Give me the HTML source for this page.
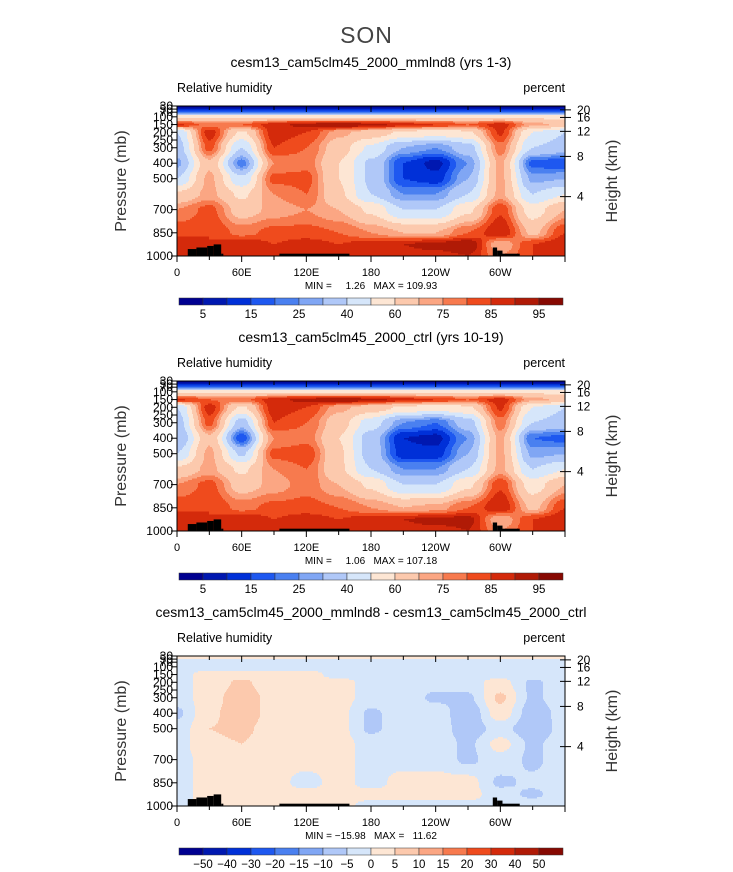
<!DOCTYPE html>
<html><head><meta charset="utf-8">
<style>
body{margin:0;background:#fff;}
#root{position:relative;width:733px;height:872px;background:#fff;font-family:"Liberation Sans",sans-serif;overflow:hidden;}
.t{position:absolute;white-space:nowrap;color:#000;}
text{white-space:pre;}
</style></head>
<body>
<div id="root">
<div class="t" style="left:0;width:733px;text-align:center;top:22px;font-size:23px;color:#444;font-weight:300;letter-spacing:1px">SON</div>
<svg id="svg" width="733" height="872" style="position:absolute;left:0;top:0"></svg>
</div>
<script>
const lons=[0,30,60,90,120,150,180,210,240,270,300,330,360];
const levels=[30,70,100,150,200,300,400,500,600,700,850,925,1000];
const rh1=[
[2,2,2,2,2,2,2,2,2,2,2,2,2],
[20,20,20,20,20,20,20,20,20,20,20,20,20],
[58,58,58,58,58,58,58,58,58,58,58,58,58],
[86,78,80,88,92,95,92,88,85,80,88,72,68],
[40,88,58,88,85,72,66,58,55,58,86,50,40],
[35,82,40,85,80,65,48,30,25,35,78,40,35],
[28,68,22,75,78,60,38,15,8,25,72,18,15],
[40,72,42,82,82,60,38,15,12,30,72,28,30],
[62,72,58,75,80,62,40,25,25,40,72,40,50],
[75,82,66,72,75,70,58,40,40,58,84,55,70],
[84,85,78,82,82,80,75,70,70,80,90,68,85],
[90,85,90,85,88,85,88,90,92,95,70,85,90],
[88,85,88,85,85,85,85,88,88,90,75,85,88]];
const rh2=[
[2,2,2,2,2,2,2,2,2,2,2,2,2],
[20,20,20,20,20,20,20,20,20,20,20,20,20],
[58,58,58,58,58,58,58,58,58,58,58,58,58],
[86,80,78,88,92,95,92,88,85,80,88,72,68],
[40,88,58,88,85,72,66,58,55,58,86,50,40],
[35,82,35,85,80,65,45,25,20,35,78,40,35],
[30,68,16,75,78,60,35,10,8,25,72,20,18],
[40,72,38,82,84,62,35,12,12,30,72,28,30],
[62,72,58,75,80,62,40,25,25,40,72,40,50],
[75,82,66,72,78,70,58,40,40,58,84,55,70],
[84,85,78,82,82,80,75,70,72,80,90,68,85],
[90,85,90,85,88,85,88,90,92,92,70,85,90],
[88,85,88,85,85,85,85,88,88,90,75,85,88]];
const rhDiff=[
[2,2,2,2,2,2,2,2,2,2,2,2,2],
[-2,-2,-2,-2,-2,-2,-2,-2,-2,-2,-2,-2,-2],
[-2,-2,-2,-2,-2,-2,-2,-2,-2,-2,-2,-2,-2],
[-2,2,2,2,2,-2,-2,-2,-2,-2,-2,-2,-2],
[-2,2,6,2,2,2,-2,-2,-3,-2,2,-6,-2],
[-3,3,8,3,2,2,-2,-2,-6,-6,6,-6,-2],
[-6,4,8,3,2,2,-6,-2,-2,-9,3,-8,-3],
[-3,5,6,3,2,2,-6,-2,-2,-8,-3,-9,-3],
[-2,4,5,2,2,2,-2,-2,-2,-6,2,-6,-2],
[-2,2,2,2,2,2,-2,-2,-2,-6,-2,-6,-2],
[-2,2,2,2,-2,2,-2,2,2,2,-6,-4,-2],
[-2,2,2,2,2,2,2,2,2,2,-3,-6,-2],
[-2,2,2,2,2,2,-2,-2,-2,-2,-2,-2,-2]];
const boundsRH=[5,10,15,20,25,30,40,50,60,70,75,80,85,90,95];
const labelsRH=["5","15","25","40","60","75","85","95"];
const boundsDiff=[-50,-40,-30,-20,-15,-10,-5,0,5,10,15,20,30,40,50];
const labelsDiff=["−50","−40","−30","−20","−15","−10","−5","0","5","10","15","20","30","40","50"];
const colors=["#000090","#0018b0","#0030d8","#1e58f0","#4a80f0","#80a6f4","#b0c8f8","#d6e6fa","#fde6d4","#fcc9ad","#fba683","#f77a4e","#ef4b1d","#d42a0b","#b01a06","#870902"];
const lonLabels=["0","60E","120E","180","120W","60W"];
const lonTicks=[0,60,120,180,240,300];
const pTicks=[1000,850,700,500,400,300,250,200,150,100,70,50,30];
const hTicks=[4,8,12,16,20];
const hPress=[616,356,194,104,55];
const land=[[10,18,955],[18,28,945],[28,34,935],[34,41,925],[41,43,985],[95,160,985],[293,297,945],[297,302,965],[302,318,985]];

const NS="http://www.w3.org/2000/svg";
const svg=document.getElementById('svg');
const X0=177,X1=565,H=150;
function xs(l){return X0+(l/360)*(X1-X0);}
function mk(tag,a,parent){const e=document.createElementNS(NS,tag);for(const k in a)e.setAttribute(k,a[k]);(parent||svg).appendChild(e);return e;}
function interp(data,lon,p){
  let i=Math.min(11,Math.floor(lon/30));const fx=(lon-lons[i])/30;
  let j=0;while(j<levels.length-2&&levels[j+1]<p)j++;
  const fy=(p-levels[j])/(levels[j+1]-levels[j]);
  const sx=fx*fx*(3-2*fx), sy=fy*fy*(3-2*fy);
  const a=data[j][i],b=data[j][i+1],c=data[j+1][i],d=data[j+1][i+1];
  return a*(1-sx)*(1-sy)+b*sx*(1-sy)+c*(1-sx)*sy+d*sx*sy;
}
function colorFor(v,bounds){let k=0;while(k<bounds.length&&v>=bounds[k])k++;return colors[k];}

function panel(idx,top,title,data,bounds,labels,minmax,lblCentered){
  const ys=p=>top+(p-30)/970*H;
  const g=mk('g',{});
  
  
  const step=1.5;
  const W=X1-X0;
  for(let y=0;y<H;y+=step){
    const p=30+(y+step/2)/H*970;
    let prev=null,start=0;
    for(let x=0;x<=W+0.01;x+=1){
      const c=x<W?colorFor(interp(data,(x+0.5)/W*360,p),bounds):null;
      if(c!==prev){
        if(prev){mk('rect',{x:X0+start,y:top+y,width:x-start+0.5,height:step+0.5,fill:prev},g);}
        prev=c;start=x;
      }
    }
  }
  for(const L of land){
    const r=mk('rect',{x:xs(L[0]),y:ys(L[2]),width:xs(L[1])-xs(L[0]),height:top+H-ys(L[2]),fill:'#000'},g);
    
    
  }
  const fr=mk('rect',{x:X0,y:top,width:X1-X0,height:H,fill:'none',stroke:'#000','stroke-width':1},g);
  
  
  for(let l=0;l<=360;l+=30){
    const len=l%60===0?6:4;
    mk('line',{x1:xs(l),x2:xs(l),y1:top+H,y2:top+H+len,stroke:'#000'},g);
    mk('line',{x1:xs(l),x2:xs(l),y1:top,y2:top+len,stroke:'#000'},g);
  }
  lonTicks.forEach((l,i)=>{const t=mk('text',{x:xs(l),y:top+H+20,'text-anchor':'middle','font-size':11,'font-family':'Liberation Sans'},g);t.textContent=lonLabels[i];
    
    });
  pTicks.forEach(p=>{mk('line',{x1:X0-6,x2:X0,y1:ys(p),y2:ys(p),stroke:'#000'},g);
    const t=mk('text',{x:X0-4,y:ys(p)+4,'text-anchor':'end','font-size':12,'font-family':'Liberation Sans'},g);t.textContent=p;
    
    });
  hTicks.forEach((h,i)=>{const y=ys(hPress[i]);mk('line',{x1:X1,x2:X1+6,y1:y,y2:y,stroke:'#000'},g);mk('line',{x1:X1-5,x2:X1,y1:y,y2:y,stroke:'#000'},g);
    const t=mk('text',{x:X1+12,y:y+4,'font-size':12,'font-family':'Liberation Sans'},g);t.textContent=h;
    
    });
  let t=mk('text',{x:(X0+X1)/2,y:top-39,'text-anchor':'middle','font-size':14,'font-family':'Liberation Sans'},g);t.textContent=title;
  
  
  t=mk('text',{x:X0,y:top-14,'font-size':12.5,'font-family':'Liberation Sans'},g);t.textContent='Relative humidity';
  
  
  t=mk('text',{x:X1,y:top-14,'text-anchor':'end','font-size':12.5,'font-family':'Liberation Sans'},g);t.textContent='percent';
  
  
  t=mk('text',{x:126,y:top+H/2,'text-anchor':'middle','font-size':16,'font-family':'Liberation Sans',transform:`rotate(-90 126 ${top+H/2})`,fill:'#333'},g);t.textContent='Pressure (mb)';
  
  
  t=mk('text',{x:617,y:top+H/2,'text-anchor':'middle','font-size':16,'font-family':'Liberation Sans',transform:`rotate(-90 617 ${top+H/2})`,fill:'#333'},g);t.textContent='Height (km)';
  
  
  t=mk('text',{x:371,y:top+H+33,'text-anchor':'middle','font-size':10,'font-family':'Liberation Sans'},g);t.textContent=minmax;
  
  
  const cy=top+192,cw=(563-179)/16;
  colors.forEach((c,i)=>{const r=mk('rect',{x:179+i*cw,y:cy,width:cw,height:7,fill:c,stroke:'#333','stroke-width':0.5},g);
    
    });
  labels.forEach((s,i)=>{const b=lblCentered?(i+1):(2*i+1);const t2=mk('text',{x:179+b*cw,y:cy+20,'text-anchor':'middle','font-size':11.5,'font-family':'Liberation Sans'},g);t2.textContent=s;
    
    });
}
panel(1,106,'cesm13_cam5clm45_2000_mmlnd8 (yrs 1-3)',rh1,boundsRH,labelsRH,'MIN =     1.26   MAX = 109.93',false);
panel(2,381,'cesm13_cam5clm45_2000_ctrl (yrs 10-19)',rh2,boundsRH,labelsRH,'MIN =     1.06   MAX = 107.18',false);
panel(3,656,'cesm13_cam5clm45_2000_mmlnd8 - cesm13_cam5clm45_2000_ctrl',rhDiff,boundsDiff,labelsDiff,'MIN = −15.98   MAX =   11.62',true);
</script>
</body></html>
